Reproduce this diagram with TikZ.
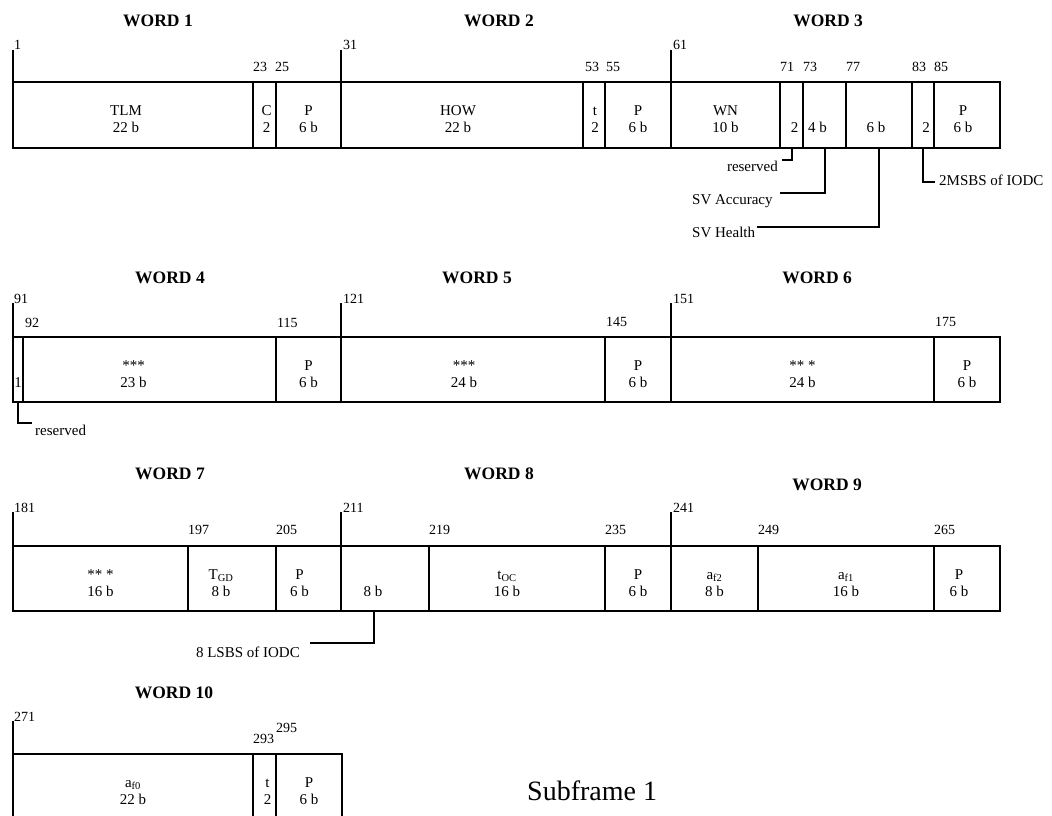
\documentclass[tikz,border=0pt]{standalone}
\usepackage{fontspec}
\setmainfont{Liberation Serif}
\usetikzlibrary{fit}
\tikzset{
 fld/.style={draw, line width=2pt, inner sep=0pt, outer sep=0pt},
 ftxt/.style={align=center, inner sep=0pt, font=\fontsize{15}{17}\selectfont},
 num/.style={anchor=base west, inner sep=0pt, font=\fontsize{14}{16}\selectfont},
 wtitle/.style={anchor=base, inner sep=0pt, font=\fontsize{17.5}{20}\selectfont\bfseries},
 note/.style={inner sep=0pt, font=\fontsize{15}{17}\selectfont},
 tick/.style={line width=2.4pt},
 conn/.style={line width=2pt},
}
% name, x1, x2, ytop, ybot, text, xshift
\newcommand\bitfield[7]{%
 \node[fld, fit={(#2,#4) (#3,#5)}] (#1) {};
 \node[ftxt] (#1t) at ([xshift=#7pt,yshift=-4.5pt]#1.center) {\vphantom{T}#6};}
\begin{document}
\begin{tikzpicture}[x=1pt,y=-1pt]
\useasboundingbox (0,0) rectangle (1052,816);
% ---------- Row 1 ----------
\bitfield{w1a}{13}{253}{82}{148}{TLM\\22 b}{-7}
\bitfield{w1b}{253}{276}{82}{148}{C\\2}{2}
\bitfield{w1c}{276}{341}{82}{148}{P\\6 b}{0}
\bitfield{w2a}{341}{583}{82}{148}{HOW\\22 b}{-4}
\bitfield{w2b}{583}{605}{82}{148}{t\\2}{1}
\bitfield{w2c}{605}{671}{82}{148}{P\\6 b}{0}
\bitfield{w3a}{671}{780}{82}{148}{WN\\10 b}{0}
\bitfield{w3b}{780}{803}{82}{148}{\\2}{3}
\bitfield{w3c}{803}{846}{82}{148}{\\4 b}{-7}
\bitfield{w3d}{846}{912}{82}{148}{\\6 b}{-3}
\bitfield{w3e}{912}{934}{82}{148}{\\2}{3}
\bitfield{w3f}{934}{1000}{82}{148}{P\\6 b}{-4}
\draw[tick] (w1a.north west) -- ++(0,-32);
\draw[tick] (w2a.north west) -- ++(0,-32);
\draw[tick] (w3a.north west) -- ++(0,-32);
\node[wtitle] (t1) at (158,27) {WORD 1};
\node[wtitle] (t2) at (499,27) {WORD 2};
\node[wtitle] (t3) at (828,27) {WORD 3};
\node[num] (n1) at (14,49) {1};
\node[num] (n31) at (343,49) {31};
\node[num] (n61) at (673,49) {61};
\node[num] (n23) at (253,72) {23};
\node[num] (n25) at (275,72) {25};
\node[num] (n53) at (585,72) {53};
\node[num] (n55) at (606,72) {55};
\node[num] (n71) at (780,72) {71};
\node[num] (n73) at (803,72) {73};
\node[num] (n77) at (846,72) {77};
\node[num] (n83) at (912,72) {83};
\node[num] (n85) at (934,72) {85};
\coordinate (cres1) at (782,160);
\draw[conn] (w3b.south) |- (cres1);
\node[note, anchor=base east] (lres1) at (778,171) {reserved};
\coordinate (cacc) at (780,193);
\draw[conn] (w3c.south) |- (cacc);
\node[note, anchor=base west] (lacc) at (692,204) {SV Accuracy};
\coordinate (chlth) at (757,227);
\draw[conn] (w3d.south) |- (chlth);
\node[note, anchor=base west] (lhlth) at (692,237) {SV Health};
\coordinate (cmsb) at (935,182);
\draw[conn] (w3e.south) |- (cmsb);
\node[note, anchor=base west] (lmsb) at (939,185) {2MSBS of IODC};
% ---------- Row 2 ----------
\bitfield{w4a}{13}{23}{337}{402}{\\1}{0}
\bitfield{w4b}{23}{276}{337}{402}{***\\23 b}{-16}
\bitfield{w4c}{276}{341}{337}{402}{P\\6 b}{0}
\bitfield{w5a}{341}{605}{337}{402}{***\\24 b}{-9}
\bitfield{w5b}{605}{671}{337}{402}{P\\6 b}{0}
\bitfield{w6a}{671}{934}{337}{402}{** *\\24 b}{0}
\bitfield{w6b}{934}{1000}{337}{402}{P\\6 b}{0}
\draw[line width=1.2pt] (w4a.north west) -- ++(0,-34);
\draw[tick] (w5a.north west) -- ++(0,-34);
\draw[tick] (w6a.north west) -- ++(0,-34);
\node[wtitle] (t4) at (170,283) {WORD 4};
\node[wtitle] (t5) at (477,283) {WORD 5};
\node[wtitle] (t6) at (817,283) {WORD 6};
\node[num] (n91) at (14,303) {91};
\node[num] (n92) at (25,327) {92};
\node[num] (n115) at (277,327) {115};
\node[num] (n121) at (343,303) {121};
\node[num] (n145) at (606,326) {145};
\node[num] (n151) at (673,303) {151};
\node[num] (n175) at (935,326) {175};
\coordinate (cres2) at (32,423);
\draw[conn] (w4a.south) |- (cres2);
\node[note, anchor=base west] (lres2) at (35,435) {reserved};
% ---------- Row 3 ----------
\bitfield{w7a}{13}{188}{546}{611}{** *\\16 b}{0}
\bitfield{w7b}{188}{276}{546}{611}{T\textsubscript{GD}\\8 b}{-11}
\bitfield{w7c}{276}{341}{546}{611}{P\\6 b}{-9}
\bitfield{w8a}{341}{429}{546}{611}{\\8 b}{-12}
\bitfield{w8b}{429}{605}{546}{611}{t\textsubscript{OC}\\16 b}{-10}
\bitfield{w8c}{605}{671}{546}{611}{P\\6 b}{0}
\bitfield{w9a}{671}{758}{546}{611}{a\textsubscript{f2}\\8 b}{0}
\bitfield{w9b}{758}{934}{546}{611}{a\textsubscript{f1}\\16 b}{0}
\bitfield{w9c}{934}{1000}{546}{611}{P\\6 b}{-8}
\draw[tick] (w7a.north west) -- ++(0,-34);
\draw[tick] (w8a.north west) -- ++(0,-34);
\draw[tick] (w9a.north west) -- ++(0,-34);
\node[wtitle] (t7) at (170,479) {WORD 7};
\node[wtitle] (t8) at (499,479) {WORD 8};
\node[wtitle] (t9) at (827,490) {WORD 9};
\node[num] (n181) at (14,512) {181};
\node[num] (n197) at (188,534) {197};
\node[num] (n205) at (276,534) {205};
\node[num] (n211) at (343,512) {211};
\node[num] (n219) at (429,534) {219};
\node[num] (n235) at (605,534) {235};
\node[num] (n241) at (673,512) {241};
\node[num] (n249) at (758,534) {249};
\node[num] (n265) at (934,534) {265};
\coordinate (clsb) at (310,643);
\draw[conn] ([xshift=-11pt]w8a.south) |- (clsb);
\node[note, anchor=base east] (llsb) at (300,657) {8 LSBS of IODC};
% ---------- Row 4 ----------
\bitfield{w10a}{13}{253}{754}{819}{a\textsubscript{f0}\\22 b}{0}
\bitfield{w10b}{253}{276}{754}{819}{t\\2}{3}
\bitfield{w10c}{276}{342}{754}{819}{P\\6 b}{0}
\draw[tick] (w10a.north west) -- ++(0,-33);
\node[wtitle] (t10) at (174,698) {WORD 10};
\node[num] (n271) at (14,721) {271};
\node[num] (n293) at (253,743) {293};
\node[num] (n295) at (276,732) {295};
\node[anchor=base west, inner sep=0pt, font=\fontsize{28}{32}\selectfont] (sub) at (527,800) {Subframe 1};
\end{tikzpicture}
\end{document}
